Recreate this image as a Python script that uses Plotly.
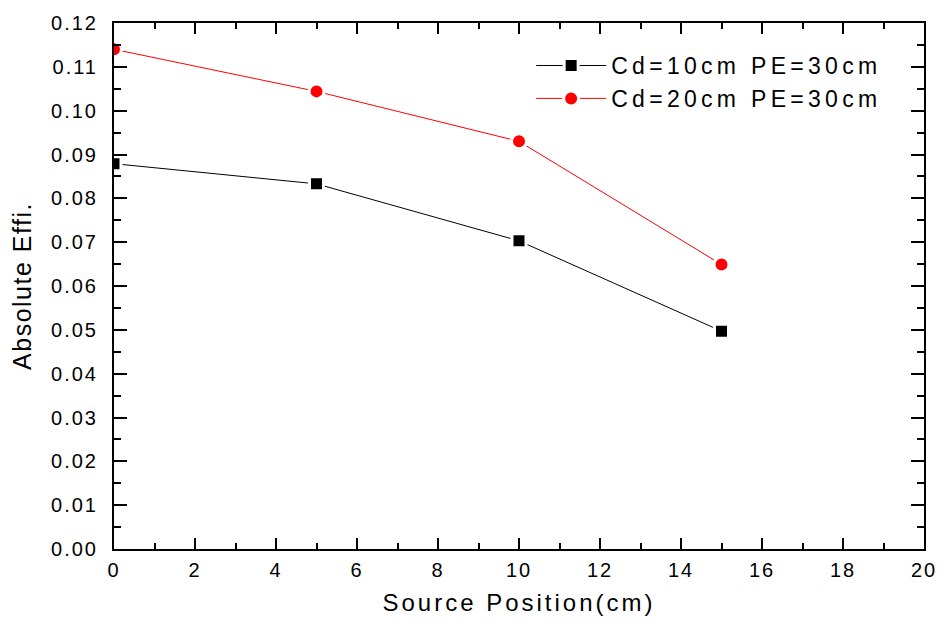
import plotly.graph_objects as go

x_pos = [0, 5, 10, 15]
cd10 = [0.0879, 0.0833, 0.0703, 0.0497]
cd20 = [0.1140, 0.1044, 0.0930, 0.0649]
names = ["Cd=10cm PE=30cm", "Cd=20cm PE=30cm"]

fig = go.Figure()
fig.add_trace(go.Scatter(x=x_pos, y=cd10, mode="lines+markers", name=names[0],
                         line=dict(color="black", width=1),
                         marker=dict(symbol="square", size=14, color="black",
                                     line=dict(color="white", width=3))))
fig.add_trace(go.Scatter(x=x_pos, y=cd20, mode="lines+markers", name=names[1],
                         line=dict(color="#ff0000", width=1),
                         marker=dict(symbol="circle", size=15, color="#ff0000",
                                     line=dict(color="white", width=3))))

font = dict(family="Arial, Liberation Sans, sans-serif", color="black")
fig.update_layout(
    width=947, height=630,
    margin=dict(l=114, r=17, t=16, b=81),
    plot_bgcolor="white", paper_bgcolor="white",
    font=font,
    showlegend=True,
    legend=dict(x=0.515, y=0.96, xanchor="left", yanchor="top",
                bgcolor="rgba(0,0,0,0)", font=dict(size=23, **font),
                itemwidth=70, tracegroupgap=0),
    xaxis=dict(range=[0, 20], dtick=2, showline=True, linecolor="black", linewidth=2,
               mirror="allticks", ticks="inside", ticklen=11, tickwidth=2, tickcolor="black",
               minor=dict(dtick=1, ticks="inside", ticklen=6, tickwidth=2, tickcolor="black"),
               showgrid=False, zeroline=False, ticklabelstandoff=2,
               tickfont=dict(size=20, **font),
               title=dict(text="Source Position(cm)", font=dict(size=24, **font), standoff=14)),
    yaxis=dict(range=[0, 0.12], dtick=0.01, tickformat=".2f", showline=True, linecolor="black",
               linewidth=2, mirror="allticks", ticks="inside", ticklen=13, tickwidth=2,
               tickcolor="black",
               minor=dict(dtick=0.005, ticks="inside", ticklen=7, tickwidth=2, tickcolor="black"),
               showgrid=False, zeroline=False, ticklabelstandoff=10,
               tickfont=dict(size=20, **font),
               title=dict(text="Absolute Effi.", font=dict(size=25, **font), standoff=20)),
)

post = """
var gd = document.getElementsByClassName('plotly-graph-div')[0];
function sp(){
  gd.querySelectorAll('.legendtext').forEach(function(e){e.style.letterSpacing='4.3px';});
  gd.querySelectorAll('.legend [clip-path]').forEach(function(e){e.removeAttribute('clip-path');});
  gd.querySelectorAll('.xtitle').forEach(function(e){e.style.letterSpacing='3px';});
  gd.querySelectorAll('.ytitle').forEach(function(e){e.style.letterSpacing='1.5px';});
  gd.querySelectorAll('.xtick text, .ytick text').forEach(function(e){e.style.letterSpacing='2px';});
}
sp();
gd.on('plotly_afterplot', sp);
"""
fig.write_html("out.html", post_script=post)
